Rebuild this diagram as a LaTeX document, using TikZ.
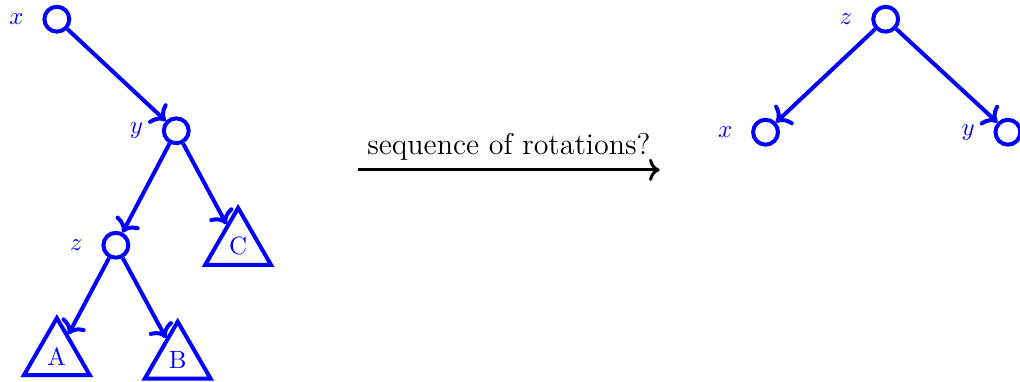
\documentclass[tikz,border=0pt]{standalone}
\usepackage{amsmath,amssymb}
\usepackage{xcolor}
\usetikzlibrary{positioning,arrows.meta,shapes.geometric}

\begin{document}
\begin{tikzpicture}[
  vert/.style={circle,draw=blue,ultra thick,minimum size=0.35cm,inner sep=0pt},
  tree/.style={regular polygon,regular polygon sides=3,draw=blue,ultra thick,minimum size=1.07cm,inner sep=1pt,text=blue},
  edge/.style={->,draw=blue,ultra thick},
  nm/.style={label distance=4pt,text=blue}]
\useasboundingbox (0,0) rectangle (14.35,-5.37);
% before
\node[vert,label={[nm]left:$x$}] (x1) at (0.80,-0.27) {};
\node[vert,label={[nm]left:$y$}] (y1) at (2.48,-1.84) {};
\node[vert,label={[nm]left:$z$}] (z1) at (1.63,-3.45) {};
\node[tree] (C) at (3.35,-3.46) {C};
\node[tree] (A) at (0.80,-5.01) {A};
\node[tree] (B) at (2.50,-5.06) {B};
\draw[edge] (x1) -- (y1);
\draw[edge] (y1) -- (z1);
\draw[edge] (y1) -- (C);
\draw[edge] (z1) -- (A);
\draw[edge] (z1) -- (B);
% rotations
\coordinate (from) at (5.04,-2.39);
\coordinate (to) at (9.28,-2.39);
\draw[->,very thick] (from) -- node[above,font=\large] {sequence of rotations?} (to);
% after
\node[vert,label={[nm]left:$z$}] (z2) at (12.46,-0.27) {};
\node[vert,label={[nm]left:$x$}] (x2) at (10.77,-1.86) {};
\node[vert,label={[nm]left:$y$}] (y2) at (14.18,-1.86) {};
\draw[edge] (z2) -- (x2);
\draw[edge] (z2) -- (y2);
\end{tikzpicture}
\end{document}
